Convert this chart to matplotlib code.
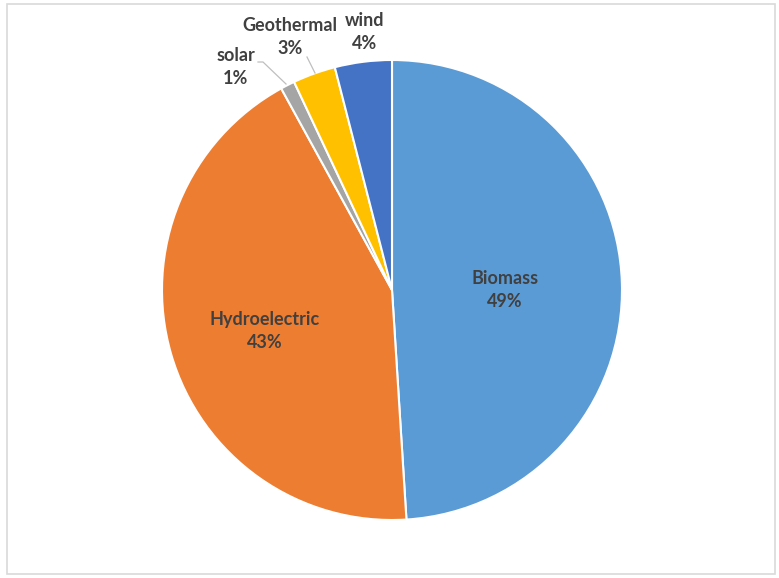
import matplotlib.pyplot as plt
from matplotlib.patches import Rectangle

sources = ['Biomass', 'Hydroelectric', 'solar', 'Geothermal', 'wind']
shares = [49, 43, 1, 3, 4]
colors = ['#5B9BD5', '#ED7D31', '#A5A5A5', '#FFC000', '#4472C4']

plt.rcParams['font.family'] = ['Lato', 'DejaVu Sans']

fig = plt.figure(figsize=(7.79, 5.78), dpi=100)
W, H = 779, 578
cx, cy, r = 392, 290, 230
ax = fig.add_axes([(cx - r) / W, (H - cy - r) / H, 2 * r / W, 2 * r / H])

ax.pie(shares, colors=colors, startangle=90, counterclock=False, radius=1,
       wedgeprops=dict(edgecolor='white', linewidth=1.5))
ax.set_xlim(-1, 1)
ax.set_ylim(-1, 1)
ax.set_aspect('equal')
ax.axis('off')


def px(x, y):
    return (x - cx) / r, (cy - y) / r


# label centres in pixel space, with optional leader line endpoints
label_pos = {
    'Biomass': (505, 290, None),
    'Hydroelectric': (265, 331, None),
    'solar': (236, 67, [(258, 62), (263, 62), (286, 84)]),
    'Geothermal': (290, 37, [(307, 57), (315, 73)]),
    'wind': (365, 32, None),
}

for name, val in zip(sources, shares):
    x, y, line = label_pos[name]
    tx, ty = px(x, y)
    ax.text(tx, ty, f'{name}\n{val}%', ha='center', va='center',
            fontsize=13, fontweight='bold', color='#404040',
            linespacing=1.45, clip_on=False)
    if line:
        xs, ys = zip(*[px(a, b) for a, b in line])
        ax.plot(xs, ys, color='#BFBFBF', linewidth=0.9, clip_on=False)

fig.patches.append(Rectangle((7 / W, 4 / H), (775 - 7) / W, (574 - 4) / H,
                             transform=fig.transFigure, fill=False,
                             edgecolor='#D9D9D9', linewidth=1.2))

fig.savefig('out.png', dpi=100)
